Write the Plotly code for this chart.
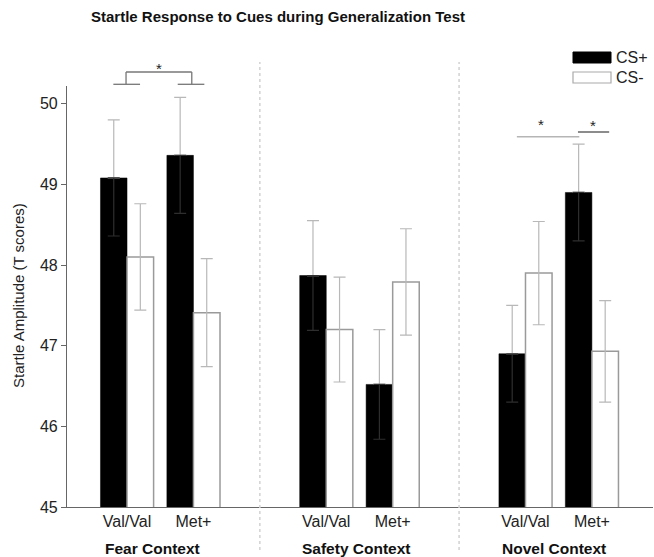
import plotly.graph_objects as go

# ---- data ----
contexts = ["Fear Context", "Safety Context", "Novel Context"]
genotypes = ["Val/Val", "Met+"]
positions = [0, 1, 3, 4, 6, 7]
tick_labels = ["Val/Val", "Met+", "Val/Val", "Met+", "Val/Val", "Met+"]
cs_plus = [49.08, 49.36, 47.87, 46.52, 46.90, 48.90]
cs_minus = [48.10, 47.41, 47.20, 47.79, 47.90, 46.93]
cs_plus_err = [0.72, 0.72, 0.68, 0.68, 0.60, 0.60]
cs_minus_err = [0.66, 0.67, 0.65, 0.66, 0.64, 0.63]
context_centers = [0.38, 3.46, 6.43]
separators = [2, 5]

FONT = "Liberation Sans, Arial, sans-serif"
ERR_LIGHT = "#b8b8b8"

fig = go.Figure()
fig.add_trace(go.Bar(
    x=positions, y=cs_plus, name="CS+",
    marker=dict(color="black", line=dict(color="black", width=0.5)),
    error_y=dict(type="data", symmetric=False, array=cs_plus_err,
                 arrayminus=[0] * len(cs_plus_err),
                 color=ERR_LIGHT, thickness=1.2, width=6),
))
fig.add_trace(go.Bar(
    x=positions, y=cs_minus, name="CS-",
    marker=dict(color="white", line=dict(color="#9a9a9a", width=1.5)),
    error_y=dict(type="data", array=cs_minus_err, color=ERR_LIGHT,
                 thickness=1.2, width=6),
))
# lower half of CS+ error bars (seen dark inside the black bars)
fig.add_trace(go.Scatter(
    x=[p - 0.2 for p in positions], y=cs_plus, mode="markers",
    marker=dict(size=1, opacity=0), showlegend=False, hoverinfo="skip",
    error_y=dict(type="data", symmetric=False, array=[0] * len(cs_plus_err),
                 arrayminus=cs_plus_err, color="#2e2e2e", thickness=1.2, width=6),
))

fig.update_layout(
    width=654, height=557,
    margin=dict(l=67, r=1, t=86, b=50),
    paper_bgcolor="white", plot_bgcolor="white",
    barmode="group", bargap=0.2, bargroupgap=0,
    showlegend=False,
    font=dict(family=FONT, color="#222"),
    title=dict(text="<b>Startle Response to Cues during Generalization Test</b>",
               x=278 / 654, xref="container", xanchor="center",
               y=1 - 17 / 557, yref="container", yanchor="middle",
               font=dict(family=FONT, size=15, color="#111")),
    xaxis=dict(range=[-0.904, 7.92], tickvals=positions, ticktext=tick_labels,
               showgrid=False, zeroline=False, showline=True, linecolor="#666",
               linewidth=1.2, ticks="", tickfont=dict(size=16, color="#222")),
    yaxis=dict(range=[45, 50.22], dtick=1, tick0=45, showgrid=False,
               zeroline=False, showline=True, linecolor="#666", linewidth=1.2,
               ticks="outside", ticklen=5, tickcolor="#666",
               tickfont=dict(size=16, color="#222")),
)

def py(px):
    return (507 - px) / 421

def pxx(px):
    return (px - 67) / 586

shapes = []
for s in separators:
    shapes.append(dict(type="line", xref="x", yref="paper", x0=s, x1=s,
                       y0=py(550), y1=py(62),
                       line=dict(color="#d2d2d2", width=1.5, dash="dot")))
# Fear context bracket
br = "#777"
shapes += [
    dict(type="line", xref="x", yref="paper", x0=-0.015, x1=0.975, y0=py(72), y1=py(72), line=dict(color=br, width=1.3)),
    dict(type="line", xref="x", yref="paper", x0=-0.015, x1=-0.015, y0=py(72), y1=py(84.3), line=dict(color=br, width=1.3)),
    dict(type="line", xref="x", yref="paper", x0=0.975, x1=0.975, y0=py(72), y1=py(84.3), line=dict(color=br, width=1.3)),
    dict(type="line", xref="x", yref="paper", x0=-0.206, x1=0.196, y0=py(84.3), y1=py(84.3), line=dict(color=br, width=1.3)),
    dict(type="line", xref="x", yref="paper", x0=0.763, x1=1.164, y0=py(84.3), y1=py(84.3), line=dict(color=br, width=1.3)),
]
# Novel context lines
shapes += [
    dict(type="line", xref="x", yref="y", x0=5.87, x1=6.81, y0=49.59, y1=49.59, line=dict(color="#b5b5b5", width=1.5)),
    dict(type="line", xref="x", yref="y", x0=6.79, x1=7.26, y0=49.65, y1=49.65, line=dict(color="#666", width=1.5)),
]
# legend boxes
shapes += [
    dict(type="rect", xref="paper", yref="paper", x0=pxx(573), x1=pxx(611), y0=py(63), y1=py(52),
         fillcolor="black", line=dict(color="black", width=1)),
    dict(type="rect", xref="paper", yref="paper", x0=pxx(573), x1=pxx(611), y0=py(83), y1=py(72),
         fillcolor="white", line=dict(color="#aaa", width=1.2)),
]
fig.update_layout(shapes=shapes)

ann = []
for c, xc in zip(contexts, context_centers):
    ann.append(dict(text="<b>" + c + "</b>", x=xc, xref="x", y=py(548), yref="paper",
                    showarrow=False, font=dict(size=15.5, color="#111"),
                    xanchor="center", yanchor="middle"))
ann.append(dict(text="Startle Amplitude (T scores)", textangle=-90, x=pxx(18), xref="paper",
                y=py(296), yref="paper", showarrow=False, font=dict(size=15, color="#222"),
                xanchor="center", yanchor="middle"))
for t, yy in [("CS+", 57.5), ("CS-", 77.5)]:
    ann.append(dict(text=t, x=pxx(614), xref="paper", y=py(yy), yref="paper", showarrow=False,
                    xanchor="left", yanchor="middle", font=dict(size=16, color="#222")))
# significance stars
ann.append(dict(text="*", x=0.48, xref="x", y=py(68), yref="paper", showarrow=False,
                font=dict(size=15, color="#222"), xanchor="center", yanchor="middle"))
ann.append(dict(text="*", x=6.23, xref="x", y=49.74, yref="y", showarrow=False,
                font=dict(size=15, color="#222"), xanchor="center", yanchor="middle"))
ann.append(dict(text="*", x=7.02, xref="x", y=49.73, yref="y", showarrow=False,
                font=dict(size=15, color="#222"), xanchor="center", yanchor="middle"))
fig.update_layout(annotations=ann)

fig.write_html("out.html", config={"displayModeBar": False},
               post_script="document.body.style.margin='0';document.body.style.overflow='hidden';")
